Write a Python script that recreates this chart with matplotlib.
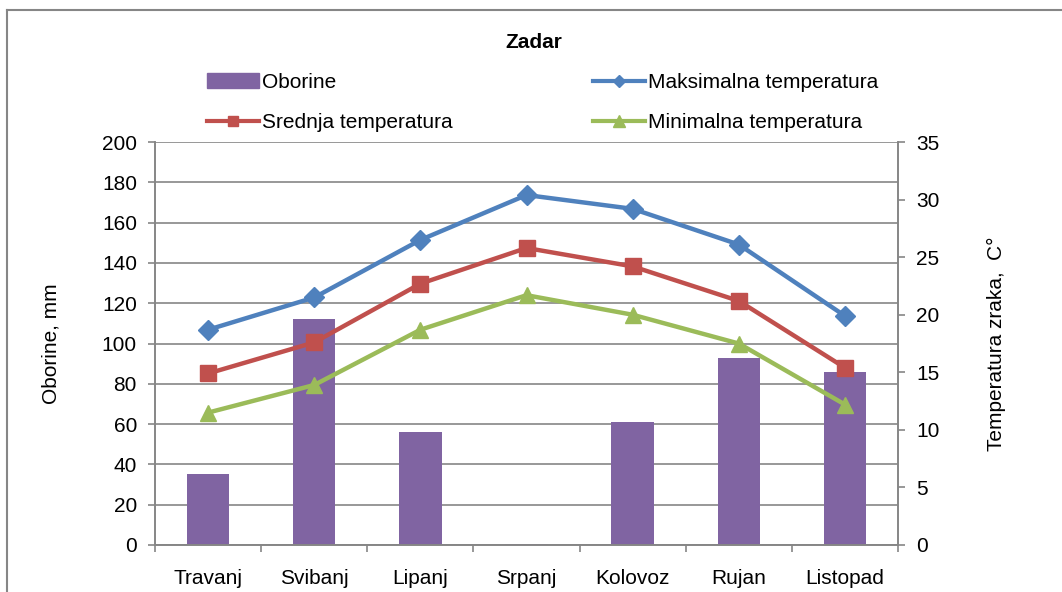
import numpy as np
import matplotlib
matplotlib.use('Agg')
import matplotlib.pyplot as plt
from matplotlib.lines import Line2D

plt.rcParams['font.family'] = ['Liberation Sans', 'DejaVu Sans']

# podaci
mjeseci = ['Travanj', 'Svibanj', 'Lipanj', 'Srpanj', 'Kolovoz', 'Rujan', 'Listopad']
oborine = [35, 112, 56, 0.5, 61, 93, 86]
t_max = [18.7, 21.5, 26.5, 30.4, 29.2, 26.1, 19.9]
t_sred = [14.9, 17.6, 22.7, 25.8, 24.2, 21.2, 15.4]
t_min = [11.5, 13.9, 18.7, 21.7, 20.0, 17.5, 12.2]

c_bar = '#8064a2'
c_max = '#4f81bd'
c_sred = '#c0504d'
c_min = '#9bbb59'
c_grid = '#868686'
fs = 15

fig = plt.figure(figsize=(10.62, 5.92), dpi=100)
ax = fig.add_axes([0.146, 0.0794, 0.6996, 0.6806])
ax2 = ax.twinx()

x = np.arange(len(mjeseci))
ax.bar(x, oborine, width=0.4, color=c_bar, zorder=2)
ax.set_xlim(-0.5, len(mjeseci) - 0.5)
ax.set_ylim(0, 200)
ax.set_yticks(np.arange(0, 201, 20))
ax.yaxis.grid(True, color=c_grid, linewidth=1.2, zorder=0)
ax.set_axisbelow(True)
ax.set_xticks(x)
ax.set_xticklabels(mjeseci)
ax.set_xticks(np.arange(-0.5, len(mjeseci)), minor=True)
ax.tick_params(axis='x', which='major', length=0, pad=17, labelsize=fs)
ax.tick_params(axis='x', which='minor', length=5, width=1.2, color=c_grid)
ax.tick_params(axis='y', length=5, width=1.2, color=c_grid, labelsize=fs, pad=8)
ax.set_ylabel('Oborine, mm', fontsize=fs, labelpad=30)

ax2.plot(x, t_max, color=c_max, lw=3.2, marker='D', ms=10, zorder=3)
ax2.plot(x, t_sred, color=c_sred, lw=3.2, marker='s', ms=11, zorder=3)
ax2.plot(x, t_min, color=c_min, lw=3.2, marker='^', ms=12, zorder=3)
ax2.set_ylim(0, 35)
ax2.set_yticks(np.arange(0, 36, 5))
ax2.tick_params(axis='y', length=5, width=1.2, color=c_grid, labelsize=fs, pad=8)
ax2.set_ylabel('Temperatura zraka,  C°', fontsize=fs, labelpad=34, rotation=90)

for a in (ax, ax2):
    a.spines['top'].set_visible(False)
    for s in ('left', 'right', 'bottom'):
        a.spines[s].set_color(c_grid)
        a.spines[s].set_linewidth(1.2)

fig.text(0.503, 0.929, 'Zadar', ha='center', va='center', fontsize=fs, fontweight='bold')

h_bar = plt.Rectangle((0, 0), 1, 1, color=c_bar)
h_max = Line2D([], [], color=c_max, lw=3, marker='D', ms=6)
h_sred = Line2D([], [], color=c_sred, lw=3, marker='s', ms=7)
h_min = Line2D([], [], color=c_min, lw=3, marker='^', ms=8)
# redoslijed po stupcima: lijevo Oborine/Srednja, desno Maks/Min
handles = [h_bar, h_sred, h_max, h_min]
labels = ['Oborine', 'Srednja temperatura', 'Maksimalna temperatura', 'Minimalna temperatura']
fig.legend(handles, labels, loc='center', bbox_to_anchor=(0.511, 0.827), ncol=2,
           frameon=False, fontsize=fs, handlelength=2.5, handletextpad=0.15,
           columnspacing=6.7, labelspacing=1.0)

# okvir grafikona
fig.add_artist(Line2D([7 / 1062, 7 / 1062], [0, 1 - 10 / 592], color=c_grid, lw=1.5))
fig.add_artist(Line2D([7 / 1062, 1], [1 - 10 / 592, 1 - 10 / 592], color=c_grid, lw=1.5))

fig.savefig('out.png', dpi=100)
